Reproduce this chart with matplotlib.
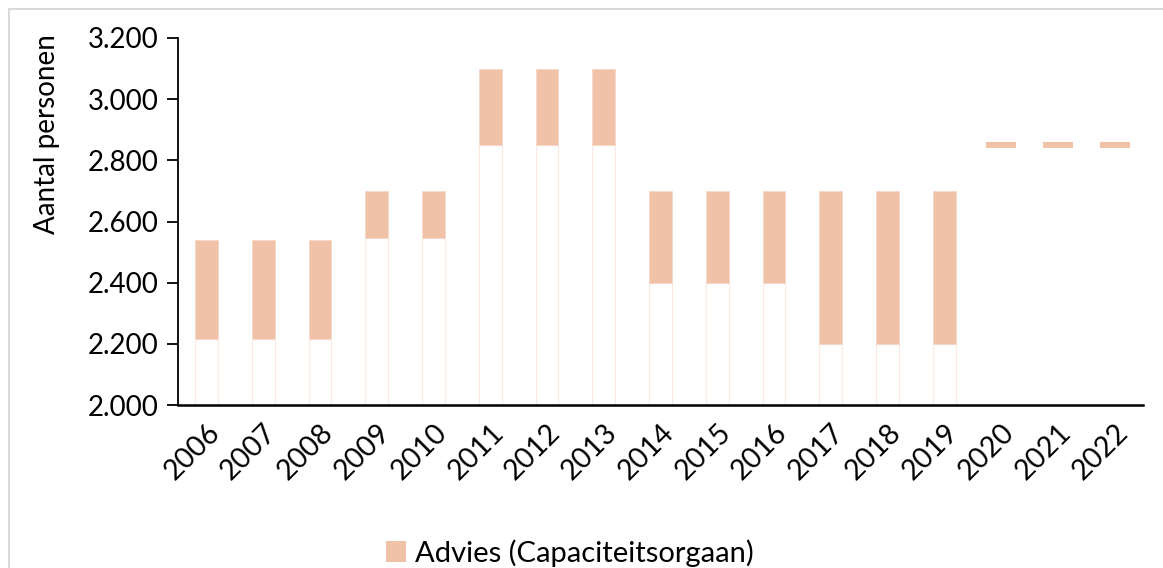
import matplotlib
matplotlib.use("Agg")
import matplotlib.pyplot as plt
from matplotlib.lines import Line2D
from matplotlib.patches import Patch

plt.rcParams['font.family'] = ['Lato', 'DejaVu Sans']

years = ['2006', '2007', '2008', '2009', '2010', '2011', '2012', '2013', '2014',
         '2015', '2016', '2017', '2018', '2019', '2020', '2021', '2022']
advies_low = [2215, 2215, 2215, 2545, 2545, 2850, 2850, 2850, 2400,
              2400, 2400, 2200, 2200, 2200, 2840, 2840, 2840]
advies_high = [2540, 2540, 2540, 2700, 2700, 3100, 3100, 3100, 2700,
               2700, 2700, 2700, 2700, 2700, 2860, 2860, 2860]
yticks = [2000, 2200, 2400, 2600, 2800, 3000, 3200]
ylabel = 'Aantal personen'
legend_label = 'Advies (Capaciteitsorgaan)'

fill_color = '#F0C2A8'
FS = 20
W, H = 1163, 568
fig = plt.figure(figsize=(W / 100, H / 100), dpi=100)
ax = fig.add_axes([178 / W, 1 - 405 / H, (1143 - 178) / W, (405 - 38) / H])

x = list(range(len(years)))
base_min = 2000
n_old = 14  # years with visible base outline
xa = x[:n_old]
xb = x[n_old:]
base_heights = [lo - base_min for lo in advies_low]
spans = [hi - lo for lo, hi in zip(advies_low, advies_high)]

ax.bar(xa, base_heights[:n_old], bottom=base_min, width=0.4, color='white',
       edgecolor='#FBEAE2', linewidth=0.8, zorder=2)
ax.bar(xa, spans[:n_old], bottom=advies_low[:n_old], width=0.4, color=fill_color,
       edgecolor='#F6D8C8', linewidth=0.6, zorder=3)
ax.bar(xb, spans[n_old:], bottom=advies_low[n_old:], width=0.53, color=fill_color,
       edgecolor='none', zorder=3)

ax.set_xlim(-0.5, len(years) - 0.5)
ax.set_ylim(2000, 3200)
ax.set_yticks(yticks)
ax.set_yticklabels([f'{v:,}'.replace(',', '.') for v in yticks], fontsize=FS)
ax.set_xticks(x)
ax.set_xticklabels(years, rotation=45, ha='right', rotation_mode='anchor',
                   fontsize=FS + 0.5)
ax.tick_params(axis='x', length=0, pad=10)
ax.tick_params(axis='y', length=8, width=1.3, direction='out', pad=6)
for s in ['top', 'right']:
    ax.spines[s].set_visible(False)
ax.spines['left'].set_linewidth(1.3)
ax.spines['bottom'].set_linewidth(1.8)
ax.set_ylabel(ylabel, fontsize=FS)
ax.yaxis.set_label_coords(-0.1227, 0.738)

handles = [Patch(facecolor=fill_color, edgecolor='none', label=legend_label)]
fig.legend(handles=handles, loc='center', bbox_to_anchor=(570 / W, 1 - 553 / H),
           frameon=False, fontsize=FS + 1, handlelength=0.7, handleheight=0.7,
           handletextpad=0.3)

# light grey chart-area border (left and top edges)
fig.add_artist(Line2D([8.5 / W, 8.5 / W], [0, 1 - 8.5 / H], transform=fig.transFigure,
                      color='#D9D9D9', linewidth=1.5))
fig.add_artist(Line2D([8.5 / W, 1], [1 - 8.5 / H, 1 - 8.5 / H], transform=fig.transFigure,
                      color='#D9D9D9', linewidth=1.5))

fig.savefig('out.png', dpi=100)
